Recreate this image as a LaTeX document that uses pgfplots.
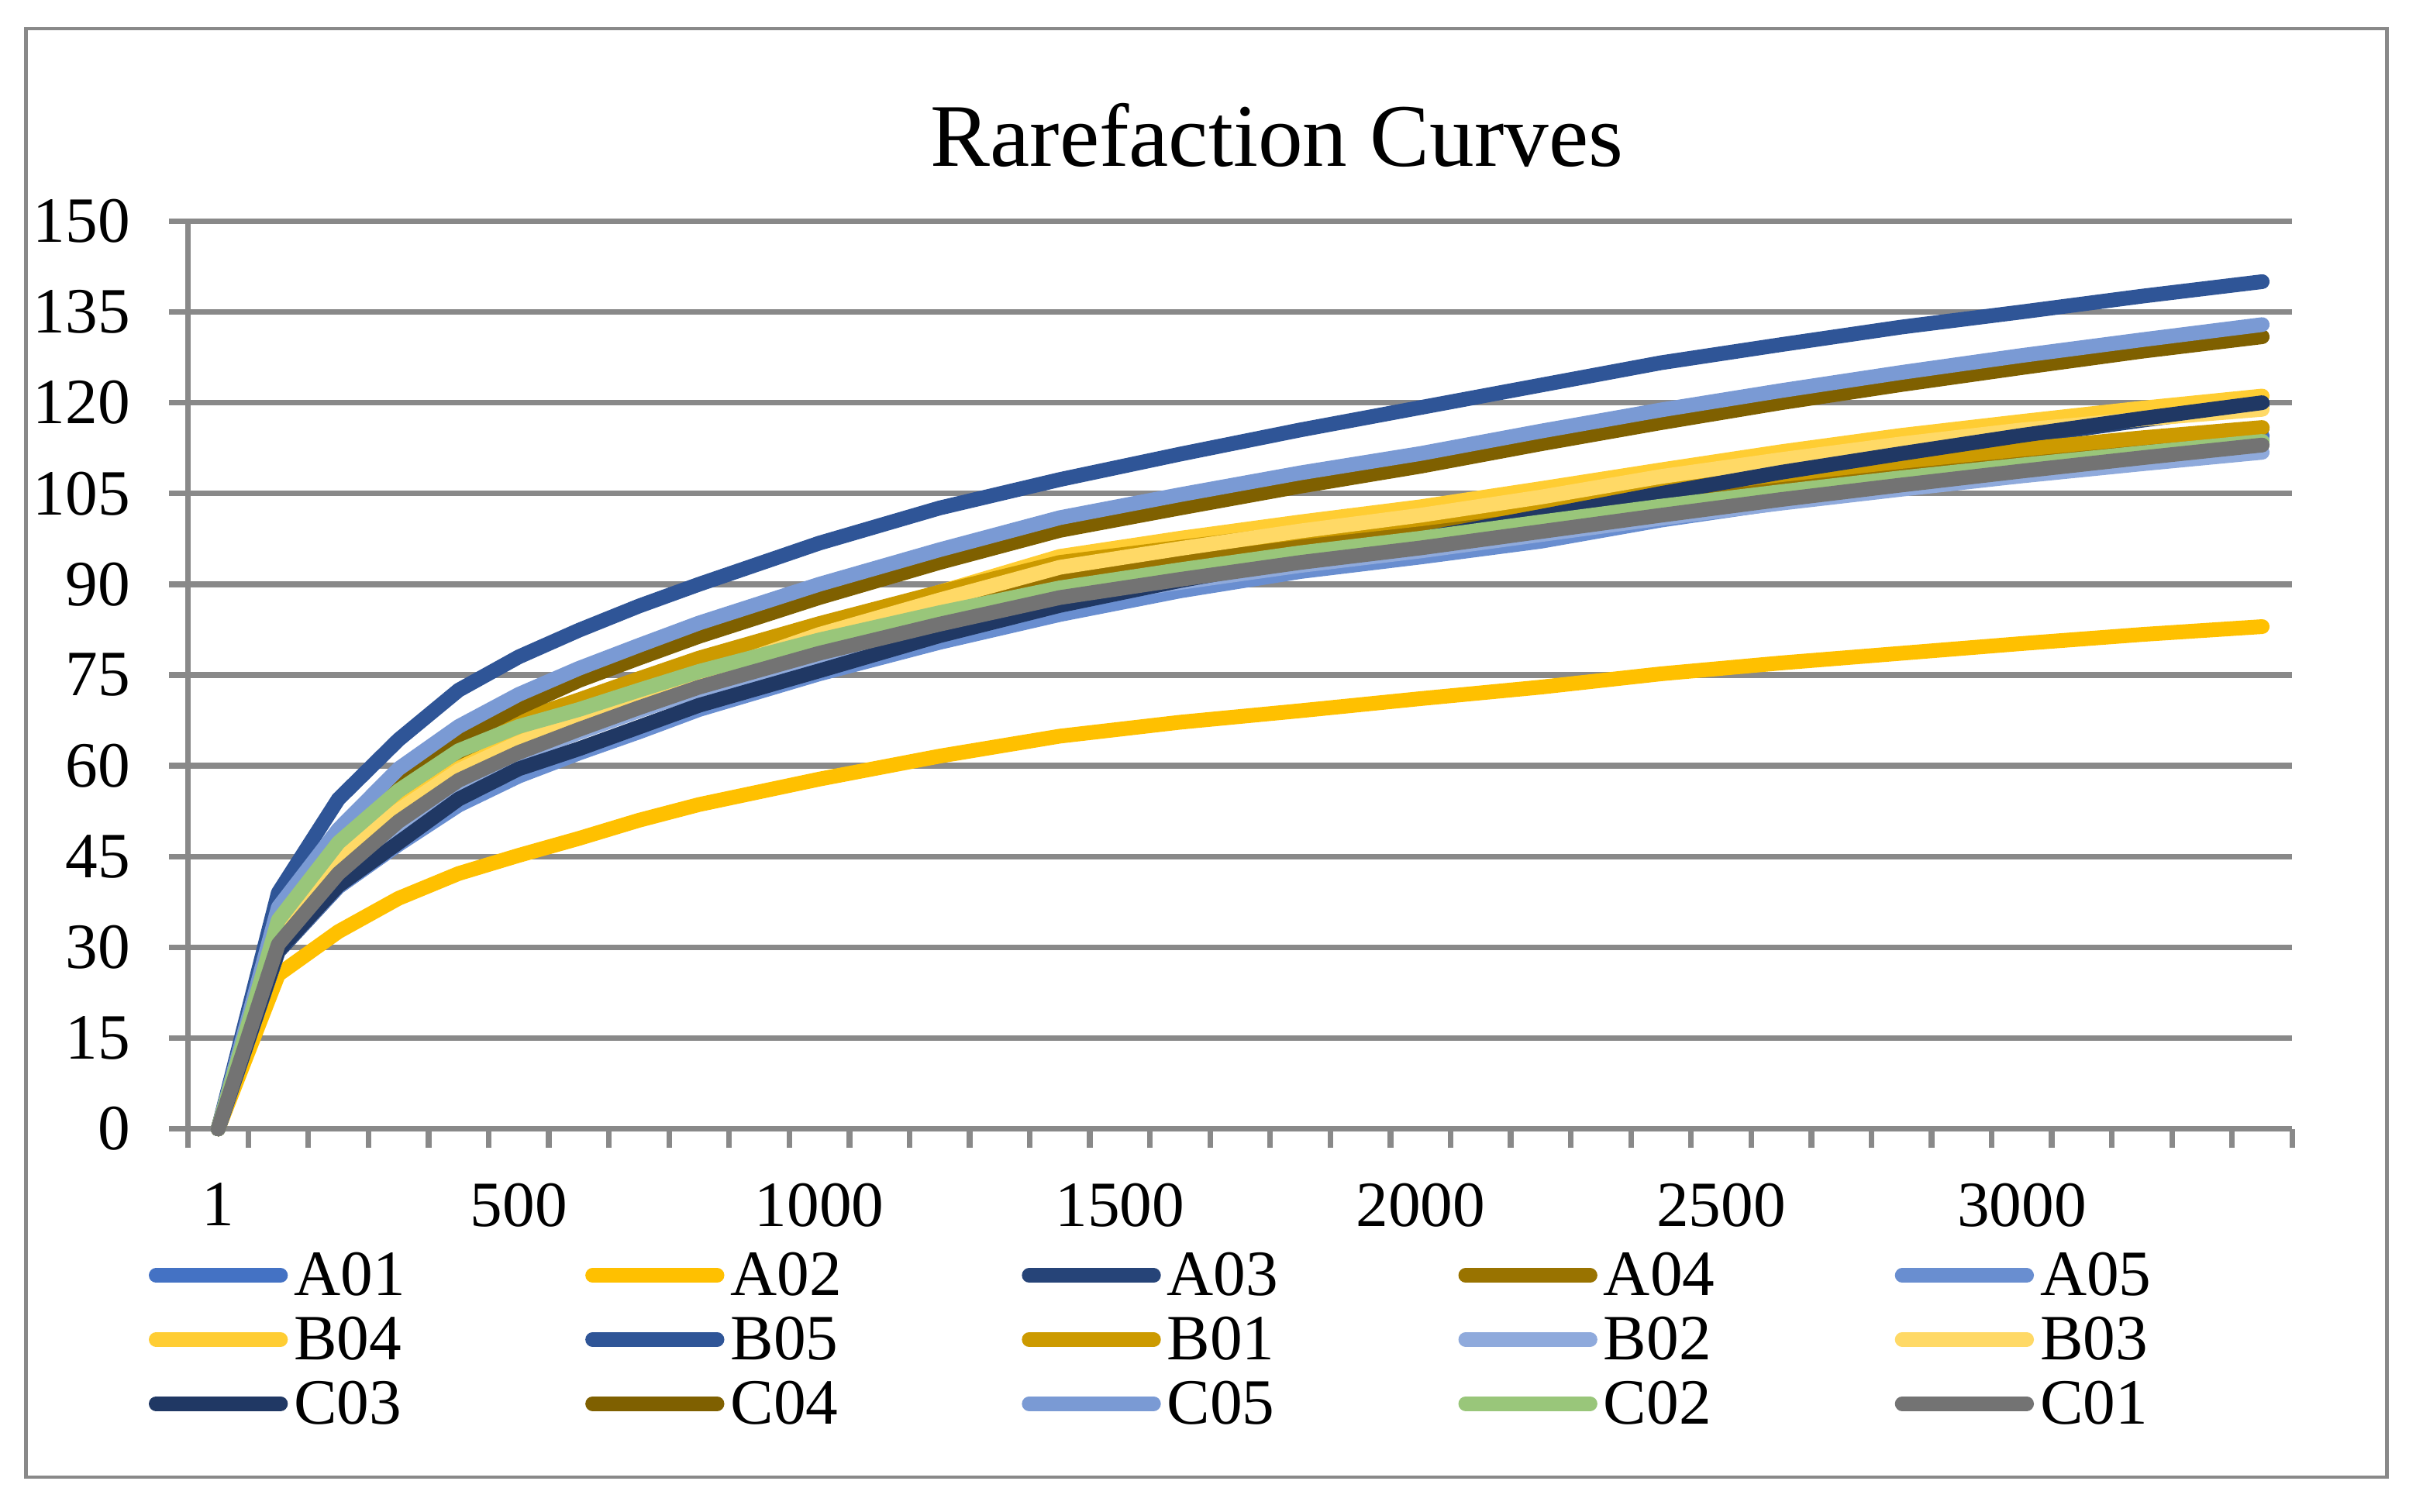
\documentclass[border=0pt]{standalone}
\usepackage{fontspec}
\setmainfont{Liberation Serif}
\usepackage{pgfplots}
\pgfplotsset{compat=1.18}
\usepackage{pgfplotstable}

\definecolor{cA01}{HTML}{4472C4}
\definecolor{cA02}{HTML}{FFC000}
\definecolor{cA03}{HTML}{264478}
\definecolor{cA04}{HTML}{997300}
\definecolor{cA05}{HTML}{698ED0}
\definecolor{cB04}{HTML}{FFCD33}
\definecolor{cB05}{HTML}{2F5597}
\definecolor{cB01}{HTML}{CC9A00}
\definecolor{cB02}{HTML}{8FAADC}
\definecolor{cB03}{HTML}{FFD966}
\definecolor{cC03}{HTML}{203864}
\definecolor{cC04}{HTML}{7F6000}
\definecolor{cC05}{HTML}{7A9AD4}
\definecolor{cC02}{HTML}{99C67A}
\definecolor{cC01}{HTML}{737373}
\definecolor{gridgray}{HTML}{898989}

\pgfplotstableread{
idx A01 A02 A03 A04 A05 B04 B05 B01 B02 B03 C03 C04 C05 C02 C01
0 0 0 0 0 0 0 0 0 0 0 0 0 0 0 0
1 34 25.5 29.3 34 29.5 33.2 39 35 30 33 29.5 35.5 36.6 34.5 30.5
2 46.5 32.6 40 46.5 40 45 54.5 47.3 41.7 44.7 40.2 48 49.5 47.3 42.2
3 55 38.1 47.1 55.5 47 53 64.3 56.2 50.3 52.6 47.3 57.6 59.5 55.9 50.8
4 61.5 42.2 54.2 62 53.5 59.6 72.5 62.8 57.1 59.2 54.5 64.5 66.5 62.5 57.6
5 66 45.2 59.2 66.5 58.3 64.3 78 67.5 61.7 63.8 59.5 69.6 71.8 66.5 62.2
6 68.9 48 62.5 69.8 62.1 68.1 82.4 70.9 65.5 67.6 62.8 74.1 76.1 69.3 66
7 72.1 51 66.1 73 65.6 71.8 86.4 74.4 69.1 71.2 66.4 77.8 79.9 72.5 69.6
8 75.2 53.6 69.7 76.2 69.3 75.5 90 77.8 72.5 74.8 70 81.4 83.6 75.6 73
10 80.4 57.8 75.4 81.8 75.2 82.2 96.8 83.5 78.1 81.7 75.7 87.8 90 80.8 78.6
12 85 61.6 81.2 86.8 80.4 88.7 102.6 88.7 82.9 87.4 81.5 93.6 95.7 85.3 83.4
14 89.2 64.9 86.2 91.3 85 94.6 107.3 93.6 87.3 92.8 86.5 98.9 101 89.4 87.8
16 92.6 67.2 90.3 94.2 88.9 97.6 111.5 96.1 90.3 95.9 90.6 102.6 104.8 92.4 90.8
18 95.8 69.1 93.9 96.9 92.1 100.3 115.5 98.6 93.1 98.8 94.2 106.2 108.4 95.2 93.6
20 98.5 71.1 97.2 99.3 94.5 102.8 119.2 100.8 95.5 101.4 97.5 109.5 111.6 97.6 96
22 101.5 73 100.9 102 97.1 105.8 122.9 103.3 98.2 104.4 101.2 113.2 115.3 100.3 98.7
24 104.4 75.2 104.7 104.7 100.6 108.9 126.6 105.8 100.9 107.8 105 116.7 118.8 102.9 101.4
26 107 77 108.2 107.3 103.5 111.9 129.6 108.1 103.4 110.6 108.5 120 122 105.3 104
28 109.3 78.6 111.3 109.8 106.3 114.6 132.5 110.3 105.7 113.2 111.6 123 125 107.6 106.4
30 111.3 80.2 114.3 112 109.2 116.9 135 112.3 107.9 115.5 114.6 125.8 127.8 109.7 108.7
32 113 81.7 117.1 114 111.6 119.1 137.6 114.2 109.9 117.3 117.4 128.5 130.4 111.7 110.9
34 114.5 83 119.7 115.8 113.7 121.1 140 115.9 111.8 118.9 120 130.9 132.9 113.6 113
}\rare

\begin{document}
\begin{tikzpicture}
\useasboundingbox (0,0) rectangle (467.55pt,292.5pt);
\draw[gridgray, line width=0.7pt] (5.06pt,6.6pt) rectangle (461.9pt,286.95pt);
\node[anchor=base, font=\fontsize{17.3}{20}\selectfont, inner sep=0pt] at (247.1pt,260.25pt) {Rarefaction Curves};
\begin{axis}[
  at={(36.4pt,74pt)}, anchor=south west,
  scale only axis, width=407.2pt, height=175.7pt,
  xmin=-0.5, xmax=34.5, ymin=0, ymax=150,
  clip=false,
  axis x line*=bottom, axis y line*=left,
  axis line style={draw=gridgray, line width=1.1pt, -},
  every outer x axis line/.append style={-},
  every outer y axis line/.append style={-},
  xtick={0,5,...,30},
  xticklabels={1,500,1000,1500,2000,2500,3000},
  minor xtick={-0.5,0.5,...,34.5},
  ytick={0,15,...,150},
  tick align=outside,
  major tick length=3.7pt, minor tick length=3.7pt,
  tick style={draw=gridgray, line width=1.1pt},
  every major x tick/.append style={draw=none},
  ymajorgrids,
  major grid style={draw=gridgray, line width=1.1pt},
  tick label style={font=\fontsize{12.5}{15}\selectfont, inner sep=0pt},
  /pgf/number format/assume math mode=true,
  yticklabel style={anchor=east, xshift=-7.3pt},
  xticklabel style={anchor=north, yshift=-6.6pt},
  legend columns=5,
  legend cell align=left,
  legend style={at={(-0.01866,-0.1363)}, anchor=north west, draw=none, fill=none,
    inner sep=0pt, outer sep=0pt, row sep=2.6pt,
    font=\fontsize{12.5}{15}\selectfont,
    /tikz/every even column/.append style={column sep=34.85pt},
    /tikz/every odd column/.append style={column sep=1.2pt},
    nodes={inner sep=0pt}},
  legend image code/.code={\draw[#1, line width=2.8pt, line cap=round] (1.4pt,0.5pt) -- (25.5pt,0.5pt);},
  every axis plot/.append style={line width=2.85pt, line cap=round, line join=round, mark=none},
]
\addplot[cA01] table[x=idx,y=A01]{\rare}; \addlegendentry{A01}
\addplot[cA02] table[x=idx,y=A02]{\rare}; \addlegendentry{A02}
\addplot[cA03] table[x=idx,y=A03]{\rare}; \addlegendentry{A03}
\addplot[cA04] table[x=idx,y=A04]{\rare}; \addlegendentry{A04}
\addplot[cA05] table[x=idx,y=A05]{\rare}; \addlegendentry{A05}
\addplot[cB04] table[x=idx,y=B04]{\rare}; \addlegendentry{B04}
\addplot[cB05] table[x=idx,y=B05]{\rare}; \addlegendentry{B05}
\addplot[cB01] table[x=idx,y=B01]{\rare}; \addlegendentry{B01}
\addplot[cB02] table[x=idx,y=B02]{\rare}; \addlegendentry{B02}
\addplot[cB03] table[x=idx,y=B03]{\rare}; \addlegendentry{B03}
\addplot[cC03] table[x=idx,y=C03]{\rare}; \addlegendentry{C03}
\addplot[cC04] table[x=idx,y=C04]{\rare}; \addlegendentry{C04}
\addplot[cC05] table[x=idx,y=C05]{\rare}; \addlegendentry{C05}
\addplot[cC02] table[x=idx,y=C02]{\rare}; \addlegendentry{C02}
\addplot[cC01] table[x=idx,y=C01]{\rare}; \addlegendentry{C01}
\end{axis}
\end{tikzpicture}
\end{document}
